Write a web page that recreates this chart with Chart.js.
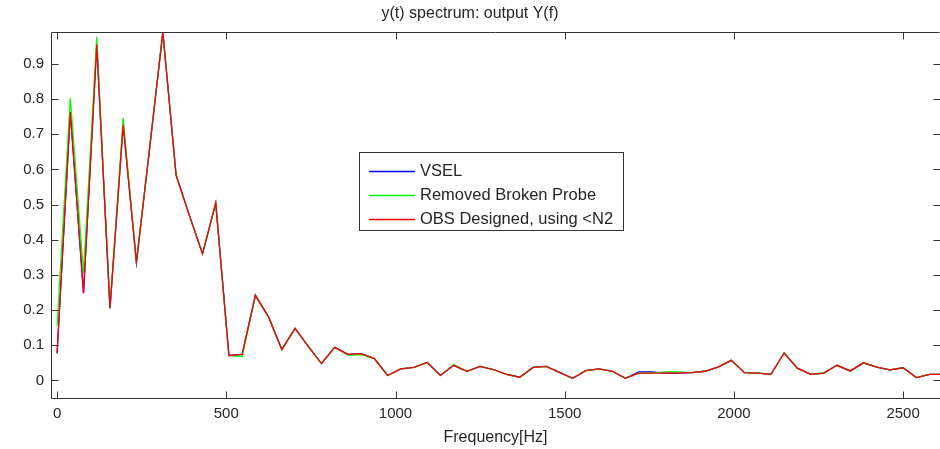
<!DOCTYPE html>
<html>
<head>
<meta charset="utf-8">
<title>y(t) spectrum</title>
<script src="https://cdn.jsdelivr.net/npm/chart.js@4.4.1/dist/chart.umd.min.js"></script>
<style>
  html, body { margin: 0; padding: 0; background: #fff; }
  #wrap { width: 940px; height: 449px; }
</style>
</head>
<body>
<div id="wrap"><canvas id="chart" width="940" height="449"></canvas></div>
<script>
// frequency bins [Hz]
var freq = [0, 39.1, 78.1, 117.2, 156.3, 195.3, 234.4, 273.4, 312.5, 351.6,
            390.6, 429.7, 468.8, 507.8, 546.9, 585.9, 625, 664.1, 703.1, 742.2,
            781.3, 820.3, 859.4, 898.4, 937.5, 976.6, 1015.6, 1054.7, 1093.8, 1132.8,
            1171.9, 1210.9, 1250, 1289.1, 1328.1, 1367.2, 1406.3, 1445.3, 1484.4, 1523.4,
            1562.5, 1601.6, 1640.6, 1679.7, 1718.8, 1757.8, 1796.9, 1835.9, 1875, 1914.1,
            1953.1, 1992.2, 2031.3, 2070.3, 2109.4, 2148.4, 2187.5, 2226.6, 2265.6, 2304.7,
            2343.8, 2382.8, 2421.9, 2460.9, 2500, 2539.1, 2578.1, 2617.2];

var vsel = [0.077, 0.763, 0.248, 0.955, 0.205, 0.727, 0.336, 0.66, 0.99, 0.584,
            0.47, 0.36, 0.504, 0.071, 0.074, 0.242, 0.18, 0.088, 0.148, 0.097,
            0.048, 0.094, 0.074, 0.076, 0.062, 0.014, 0.033, 0.037, 0.051, 0.014,
            0.043, 0.026, 0.04, 0.031, 0.017, 0.009, 0.037, 0.04, 0.023, 0.006,
            0.028, 0.033, 0.026, 0.006, 0.024, 0.024, 0.021, 0.021, 0.022, 0.026,
            0.038, 0.057, 0.022, 0.021, 0.017, 0.078, 0.035, 0.017, 0.021, 0.043,
            0.027, 0.05, 0.038, 0.030, 0.036, 0.008, 0.017, 0.017];

var brokenProbe = [0.155, 0.803, 0.305, 0.977, 0.205, 0.746, 0.336, 0.66, 0.99, 0.584,
            0.47, 0.36, 0.504, 0.071, 0.068, 0.242, 0.18, 0.088, 0.148, 0.097,
            0.048, 0.094, 0.072, 0.073, 0.062, 0.014, 0.033, 0.037, 0.051, 0.014,
            0.045, 0.026, 0.04, 0.031, 0.017, 0.009, 0.037, 0.04, 0.023, 0.006,
            0.028, 0.033, 0.026, 0.006, 0.021, 0.021, 0.024, 0.024, 0.022, 0.026,
            0.038, 0.057, 0.022, 0.021, 0.017, 0.078, 0.035, 0.017, 0.021, 0.043,
            0.027, 0.05, 0.038, 0.030, 0.036, 0.008, 0.017, 0.017];

var obsDesigned = [0.077, 0.763, 0.248, 0.955, 0.205, 0.727, 0.336, 0.66, 0.99, 0.584,
            0.47, 0.36, 0.504, 0.071, 0.074, 0.242, 0.18, 0.088, 0.148, 0.097,
            0.048, 0.094, 0.074, 0.076, 0.062, 0.014, 0.033, 0.037, 0.051, 0.014,
            0.043, 0.026, 0.04, 0.031, 0.017, 0.009, 0.037, 0.04, 0.023, 0.006,
            0.028, 0.033, 0.026, 0.006, 0.021, 0.021, 0.021, 0.021, 0.022, 0.026,
            0.038, 0.057, 0.022, 0.021, 0.017, 0.078, 0.035, 0.017, 0.021, 0.043,
            0.027, 0.05, 0.038, 0.030, 0.036, 0.008, 0.017, 0.017];

var xTicks = [0, 500, 1000, 1500, 2000, 2500];
var yTicks = [0, 0.1, 0.2, 0.3, 0.4, 0.5, 0.6, 0.7, 0.8, 0.9];

var seriesNames = ['VSEL', 'Removed Broken Probe', 'OBS Designed, using <N2'];
var seriesColors = ['#0000ff', '#00ff00', '#ff0000'];

var textColor = '#262626';
var axisColor = '#333333';
Chart.defaults.font.family = "'Liberation Sans', Arial, sans-serif";

function toPoints(values) {
    return values.map(function (v, i) { return { x: freq[i], y: v }; });
}

function makeSet(i, values) {
    return {
        label: seriesNames[i],
        data: toPoints(values),
        borderColor: seriesColors[i],
        backgroundColor: seriesColors[i],
        borderWidth: 1.3,
        pointRadius: 0,
        tension: 0,
        fill: false,
        order: 2 - i   // red on top, blue at the bottom
    };
}

// box + inward tick marks, matlab style
var axesFrame = {
    id: 'axesFrame',
    afterDraw: function (chart) {
        var ctx = chart.ctx, a = chart.chartArea;
        var xs = chart.scales.x, ys = chart.scales.y;
        var L = Math.round(a.left) + 0.5, R = Math.round(a.right) - 0.5;
        var T = Math.round(a.top) + 0.5, B = Math.round(a.bottom) + 0.5;
        var len = 7;
        ctx.save();
        ctx.strokeStyle = axisColor;
        ctx.lineWidth = 1;
        ctx.beginPath();
        ctx.moveTo(R, T); ctx.lineTo(L, T); ctx.lineTo(L, B); ctx.lineTo(R + 1, B);
        ctx.stroke();
        ctx.beginPath();
        xTicks.forEach(function (v) {
            var px = Math.round(xs.getPixelForValue(v)) + 0.5;
            ctx.moveTo(px, T); ctx.lineTo(px, T + len);
            ctx.moveTo(px, B); ctx.lineTo(px, B - len);
        });
        yTicks.forEach(function (v) {
            var py = Math.round(ys.getPixelForValue(v)) + 0.5;
            ctx.moveTo(L, py); ctx.lineTo(L + len, py);
            ctx.moveTo(R + 1, py); ctx.lineTo(R + 1 - len, py);
        });
        ctx.stroke();
        ctx.restore();
    }
};

// legend box inside the axes
var boxLegend = {
    id: 'boxLegend',
    afterDraw: function (chart) {
        var ctx = chart.ctx;
        var bx = 359.5, by = 152.5, bw = 264, bh = 78;
        var rowY = [171, 195, 219];
        ctx.save();
        ctx.fillStyle = '#ffffff';
        ctx.fillRect(bx, by, bw, bh);
        ctx.strokeStyle = axisColor;
        ctx.lineWidth = 1;
        ctx.strokeRect(bx, by, bw, bh);
        ctx.font = "16.5px 'Liberation Sans', Arial, sans-serif";
        ctx.textBaseline = 'middle';
        ctx.textAlign = 'left';
        chart.data.datasets.forEach(function (ds, i) {
            var y = rowY[i] + 0.5;
            ctx.strokeStyle = ds.borderColor;
            ctx.lineWidth = 1.3;
            ctx.beginPath();
            ctx.moveTo(369, y); ctx.lineTo(415, y);
            ctx.stroke();
            ctx.fillStyle = textColor;
            ctx.fillText(ds.label, 420, rowY[i]);
        });
        ctx.restore();
    }
};

var chart = new Chart(document.getElementById('chart'), {
    type: 'line',
    data: {
        datasets: [makeSet(0, vsel), makeSet(1, brokenProbe), makeSet(2, obsDesigned)]
    },
    options: {
        responsive: false,
        devicePixelRatio: 1,
        animation: false,
        layout: { padding: 0 },
        plugins: {
            legend: { display: false },
            tooltip: { enabled: false },
            title: {
                display: true,
                text: 'y(t) spectrum: output Y(f)',
                color: textColor,
                font: { size: 16, weight: 'normal' },
                padding: { top: 4, bottom: 9 }
            }
        },
        scales: {
            x: {
                type: 'linear',
                min: -18,
                max: 2609,
                afterBuildTicks: function (s) { s.ticks = xTicks.map(function (v) { return { value: v }; }); },
                afterFit: function (s) { s.height = 51; },
                grid: { display: false, drawTicks: false },
                border: { display: false },
                ticks: {
                    color: textColor, font: { size: 15 }, padding: 7, maxRotation: 0, autoSkip: false,
                    callback: function (v) { return String(v); }
                },
                title: {
                    display: true,
                    text: 'Frequency[Hz]',
                    color: textColor,
                    font: { size: 16 },
                    padding: { top: 0, bottom: 2 }
                }
            },
            y: {
                min: -0.05,
                max: 0.99,
                afterBuildTicks: function (s) { s.ticks = yTicks.map(function (v) { return { value: v }; }); },
                afterFit: function (s) { s.width = 51; },
                grid: { display: false, drawTicks: false },
                border: { display: false },
                ticks: {
                    color: textColor, font: { size: 15 }, padding: 7,
                    callback: function (v) { return String(v); }
                }
            }
        }
    },
    plugins: [axesFrame, boxLegend]
});
</script>
</body>
</html>
